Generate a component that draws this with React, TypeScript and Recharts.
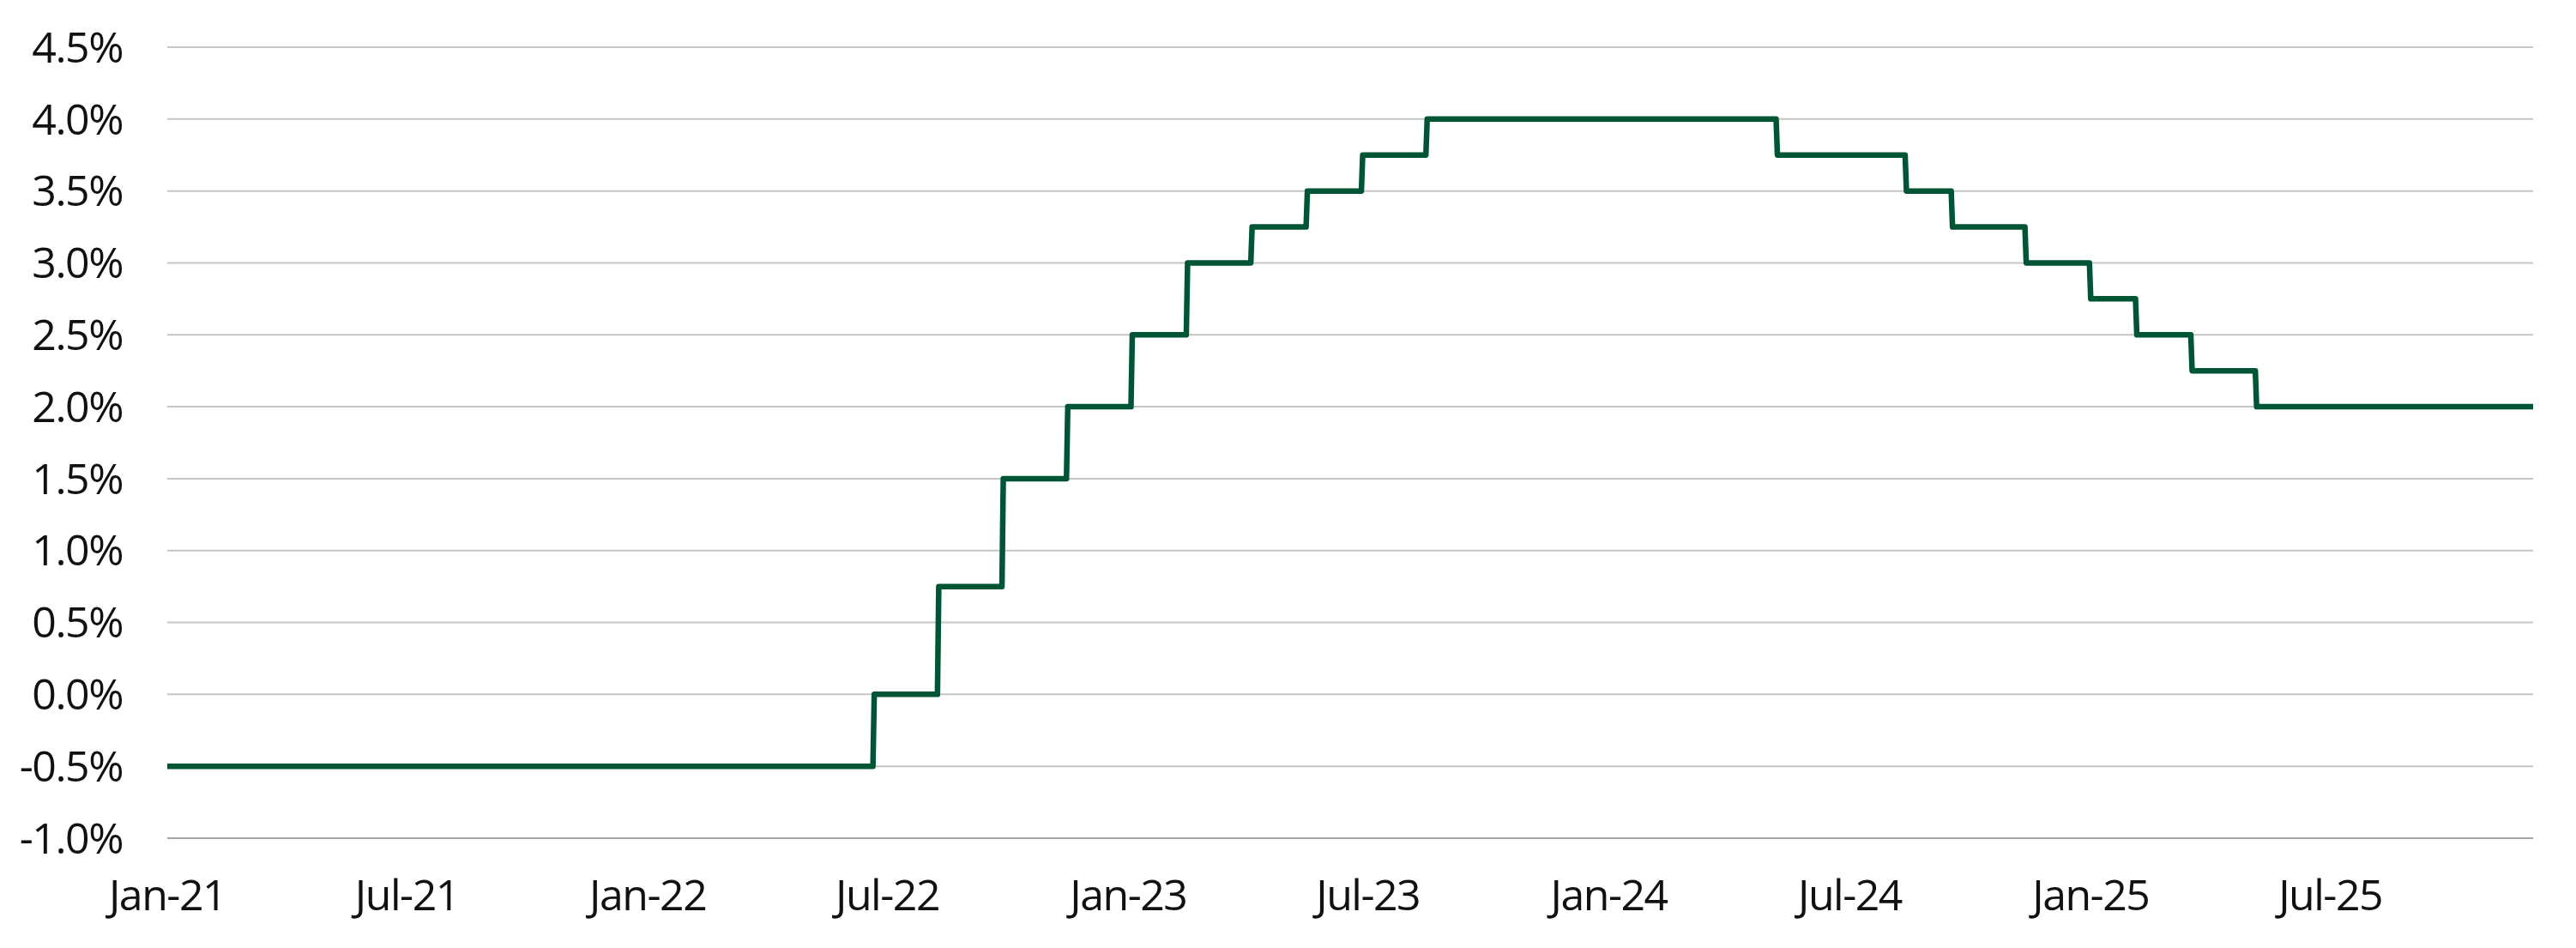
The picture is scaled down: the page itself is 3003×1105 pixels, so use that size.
import React from 'react';
import { LineChart, Line, XAxis, YAxis, CartesianGrid } from 'recharts';

// series start / end dates
const startDate = '2021-02-05';
const endDate = '2026-01-07';
const startRate = -0.5;

// policy rate changes (effective date, new rate %)
const changeDates = [
  '2022-07-27', '2022-09-14', '2022-11-02', '2022-12-21', '2023-02-08',
  '2023-03-22', '2023-05-10', '2023-06-21', '2023-08-02', '2023-09-20',
  '2024-06-12', '2024-09-18', '2024-10-23', '2024-12-18', '2025-02-05',
  '2025-03-12', '2025-04-23', '2025-06-11',
];
const newRates = [
  0.0, 0.75, 1.5, 2.0, 2.5,
  3.0, 3.25, 3.5, 3.75, 4.0,
  3.75, 3.5, 3.25, 3.0, 2.75,
  2.5, 2.25, 2.0,
];

// x-axis ticks as they sit in the picture
const tickDates = [
  '2021-02-05', '2021-08-06', '2022-02-05', '2022-08-06', '2023-02-05',
  '2023-08-06', '2024-02-05', '2024-08-06', '2025-02-05', '2025-08-06',
];
const tickLabels = [
  'Jan-21', 'Jul-21', 'Jan-22', 'Jul-22', 'Jan-23',
  'Jul-23', 'Jan-24', 'Jul-24', 'Jan-25', 'Jul-25',
];
const yTicks = [-1.0, -0.5, 0.0, 0.5, 1.0, 1.5, 2.0, 2.5, 3.0, 3.5, 4.0, 4.5];

const DAY = 86400000;
const ts = (d: string) => new Date(d + 'T00:00:00Z').getTime();

const data: { t: number; rate: number }[] = [{ t: ts(startDate), rate: startRate }];
changeDates.forEach((d, i) => {
  const prev = i === 0 ? startRate : newRates[i - 1];
  data.push({ t: ts(d) - DAY, rate: prev });
  data.push({ t: ts(d), rate: newRates[i] });
});
data.push({ t: ts(endDate), rate: newRates[newRates.length - 1] });

const xTicks = tickDates.map(ts);
const labelFor = (v: number) => {
  const i = xTicks.indexOf(v);
  return i >= 0 ? tickLabels[i] : '';
};

const FONT = '"Open Sans", "Noto Sans", sans-serif';
const tickStyle = { fontSize: 50, fill: '#111111', fontFamily: FONT, letterSpacing: -1.5 };

export default function App() {
  return (
    <div style={{ width: 2987, height: 1089, background: '#ffffff' }}>
      <LineChart
        width={2987}
        height={1089}
        data={data}
        margin={{ top: 47, right: 42, left: 0, bottom: 40 }}
      >
        <CartesianGrid vertical={false} stroke="#C6C6C6" strokeWidth={2} />
        <XAxis
          dataKey="t"
          type="number"
          scale="time"
          domain={[ts(startDate), ts(endDate)]}
          ticks={xTicks}
          tickFormatter={labelFor}
          tick={tickStyle}
          tickLine={false}
          tickSize={0}
          tickMargin={48}
          axisLine={{ stroke: '#A6A6A6', strokeWidth: 2 }}
          height={80}
          interval={0}
          allowDataOverflow
        />
        <YAxis
          domain={[-1, 4.5]}
          ticks={yTicks}
          tickFormatter={(v: number) => `${v.toFixed(1)}%`}
          tick={tickStyle}
          tickLine={false}
          tickSize={0}
          tickMargin={52}
          axisLine={false}
          width={187}
          interval={0}
        />
        <Line
          type="linear"
          dataKey="rate"
          stroke="#005634"
          strokeWidth={6.5}
          strokeLinecap="round"
          strokeLinejoin="round"
          dot={false}
          activeDot={false}
          isAnimationActive={false}
        />
      </LineChart>
    </div>
  );
}
